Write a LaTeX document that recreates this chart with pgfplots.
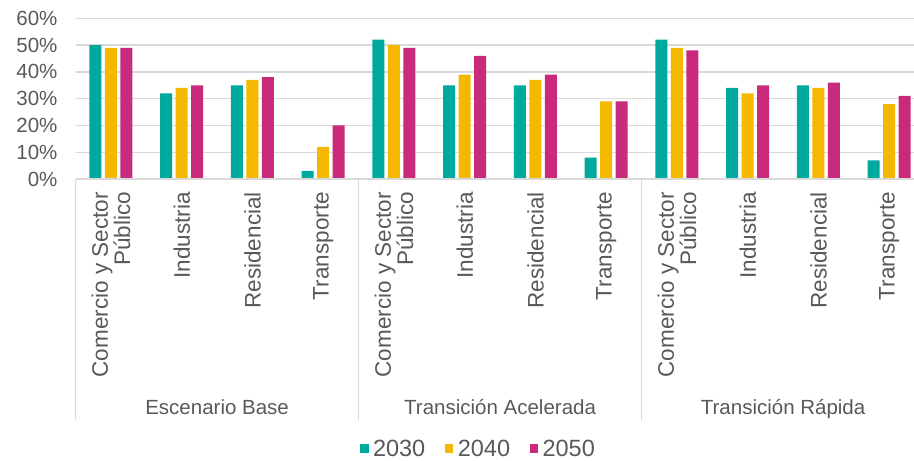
\documentclass[border=0pt]{standalone}
\usepackage{pgfplots}
\pgfplotsset{compat=1.18}
\usepackage{fontspec}
\setmainfont{Liberation Sans}
\definecolor{c2030}{HTML}{00A99D}
\definecolor{c2040}{HTML}{F5B800}
\definecolor{c2050}{HTML}{C92A7B}
\definecolor{txt}{HTML}{595959}
\definecolor{gridc}{HTML}{D9D9D9}
\begin{document}
\begin{tikzpicture}[x=1pt,y=1pt]
\useasboundingbox (0,0) rectangle (914,461);
\begin{axis}[
  at={(75.6pt,282pt)}, anchor=south west,
  scale only axis, width=838.4pt, height=160.7pt,
  xmin=-0.5, xmax=11.35, ymin=0, ymax=60,
  ybar=3.5pt, bar width=12pt,
  clip=false,
  axis line style={draw=none},
  major tick length=0pt,
  ytick={0,10,...,60},
  yticklabels={0\%,10\%,20\%,30\%,40\%,50\%,60\%},
  ymajorgrids, grid style={gridc, line width=1.3pt},
  xtick={0,...,11},
  xticklabels={{Comercio y Sector\\Público},Industria,Residencial,Transporte,
               {Comercio y Sector\\Público},Industria,Residencial,Transporte,
               {Comercio y Sector\\Público},Industria,Residencial,Transporte},
  /pgf/number format/assume math mode=true,
  yticklabel style={anchor=east, inner sep=0pt, xshift=-18pt, text=txt, font=\fontsize{20.5}{23}\selectfont},
  xticklabel style={rotate=90, anchor=east, inner sep=0pt, align=right, text=txt, font=\fontsize{22.5}{21}\selectfont},
  xticklabel shift=13pt,
  legend style={at={(0.482,-1.68)}, anchor=center, draw=none, legend columns=3,
    font=\fontsize{23.5}{24}\selectfont, text=txt, inner sep=0pt,
    nodes={inner xsep=4.5pt, inner ysep=0pt},
    /tikz/every even column/.append style={column sep=15pt}},
  legend image code/.code={\fill[#1,draw=none] (0pt,-4.5pt) rectangle (8.5pt,4.5pt);},
]
\addplot[fill=c2030, draw=none] coordinates {(0,50)(1,32)(2,35)(3,3)(4,52)(5,35)(6,35)(7,8)(8,52)(9,34)(10,35)(11,7)};
\addplot[fill=c2040, draw=none] coordinates {(0,49)(1,34)(2,37)(3,12)(4,50)(5,39)(6,37)(7,29)(8,49)(9,32)(10,34)(11,28)};
\addplot[fill=c2050, draw=none] coordinates {(0,49)(1,35)(2,38)(3,20)(4,49)(5,46)(6,39)(7,29)(8,48)(9,35)(10,36)(11,31)};
\legend{2030,2040,2050}
\draw[gridc, line width=1.3pt] (axis cs:-0.5,0) -- (axis cs:11.35,0);
\draw[gridc, line width=1.3pt] (axis cs:-0.5,0) -- ++(0pt,-241pt);
\draw[gridc, line width=1.3pt] (axis cs:3.5,0) -- ++(0pt,-241pt);
\draw[gridc, line width=1.3pt] (axis cs:7.5,0) -- ++(0pt,-241pt);
\node[anchor=base, text=txt, font=\fontsize{20.5}{23}\selectfont, inner sep=0pt] at ([yshift=-235pt]axis cs:1.5,0) {Escenario Base};
\node[anchor=base, text=txt, font=\fontsize{20.5}{23}\selectfont, inner sep=0pt] at ([yshift=-235pt]axis cs:5.5,0) {Transición Acelerada};
\node[anchor=base, text=txt, font=\fontsize{20.5}{23}\selectfont, inner sep=0pt] at ([yshift=-235pt]axis cs:9.5,0) {Transición Rápida};
\end{axis}
\end{tikzpicture}
\end{document}
